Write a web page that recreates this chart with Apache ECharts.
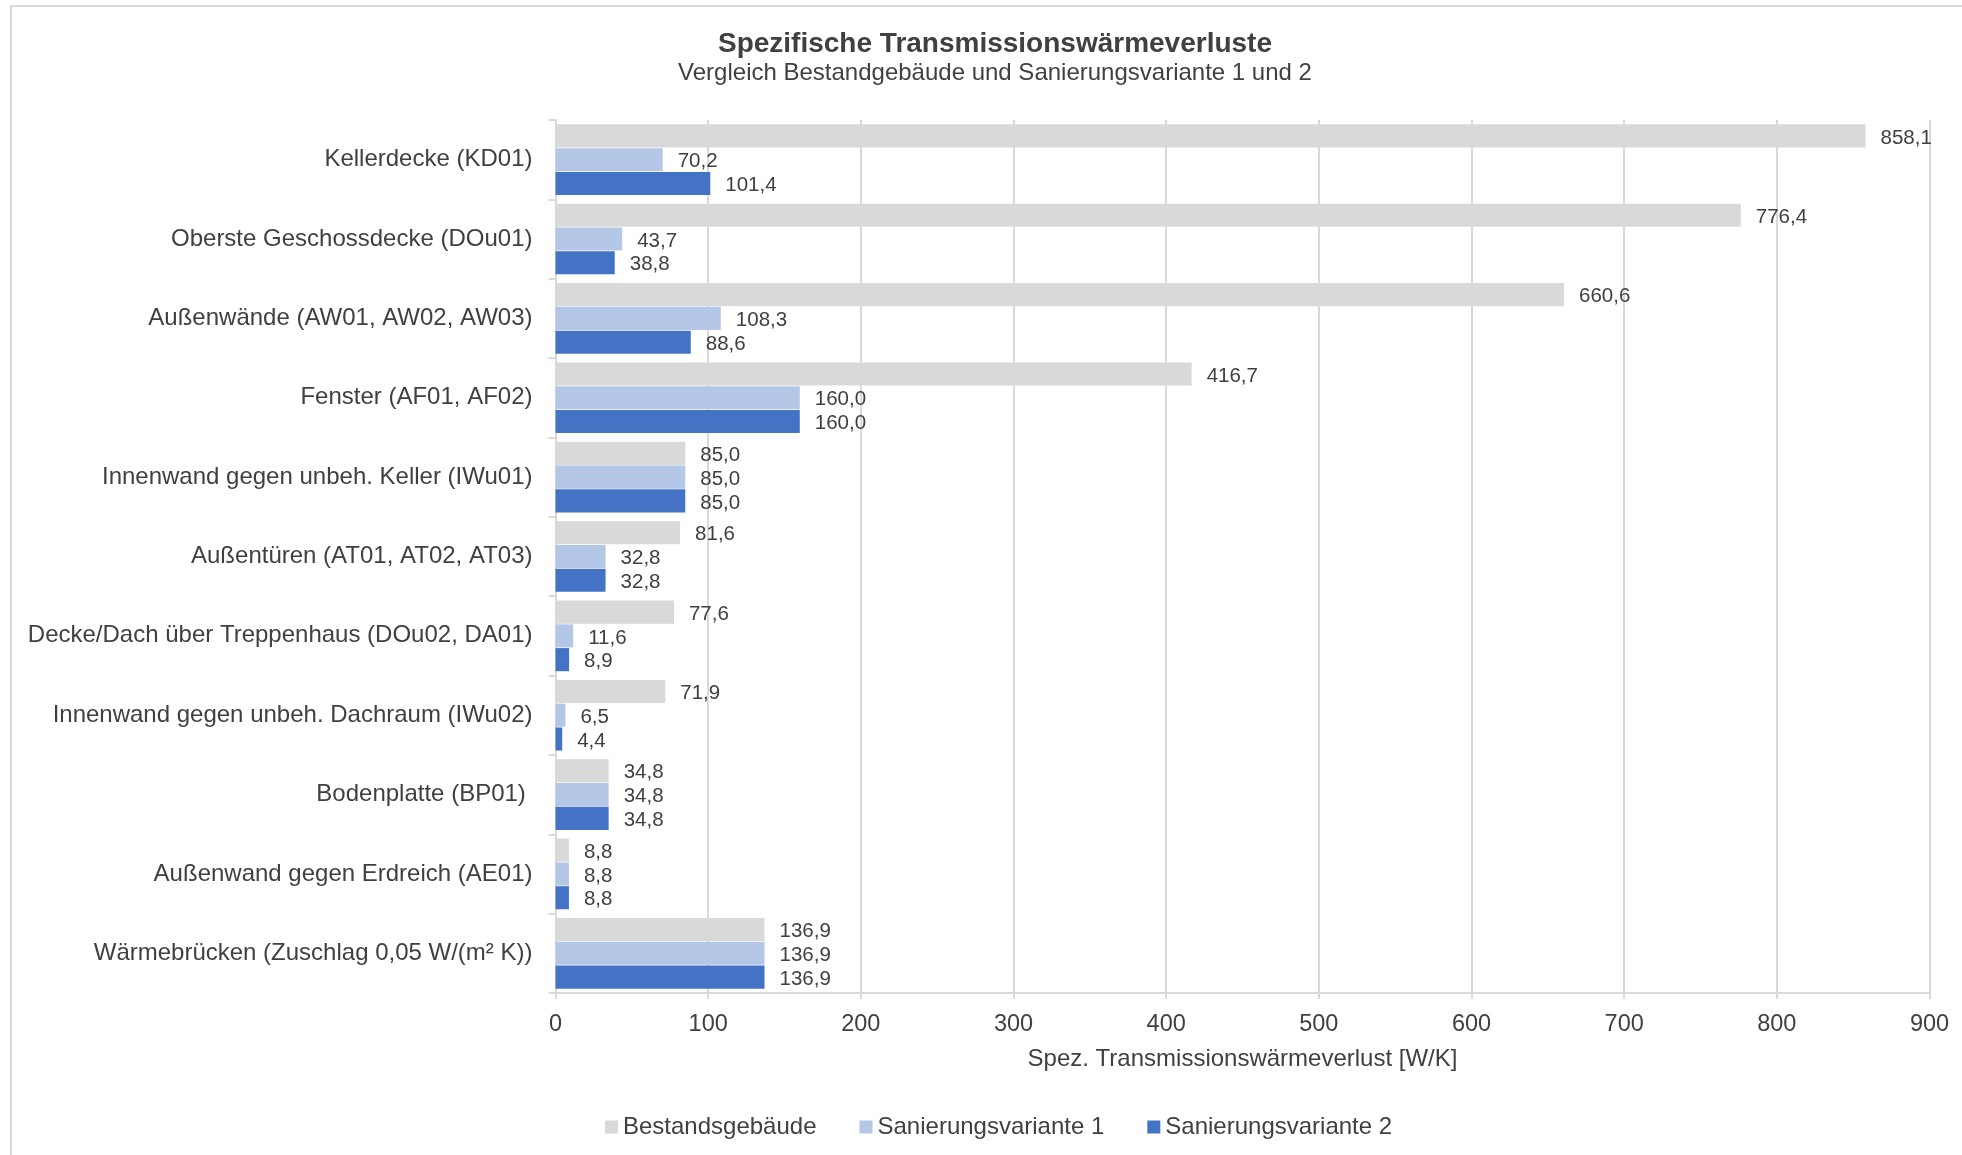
<!DOCTYPE html>
<html>
<head>
<meta charset="utf-8">
<script src="https://cdn.jsdelivr.net/npm/echarts@6/dist/echarts.min.js"></script>
<style>
  html, body { margin: 0; padding: 0; background: #fff; }
  #chart { width: 1962px; height: 1155px; }
</style>
</head>
<body>
<div id="chart"></div>
<script>
// Building components (top to bottom)
const categories = [
  'Kellerdecke (KD01)',
  'Oberste Geschossdecke (DOu01)',
  'Außenwände (AW01, AW02, AW03)',
  'Fenster (AF01, AF02)',
  'Innenwand gegen unbeh. Keller (IWu01)',
  'Außentüren (AT01, AT02, AT03)',
  'Decke/Dach über Treppenhaus (DOu02, DA01)',
  'Innenwand gegen unbeh. Dachraum (IWu02)',
  'Bodenplatte (BP01) ',
  'Außenwand gegen Erdreich (AE01)',
  'Wärmebrücken (Zuschlag 0,05 W/(m² K))'
];

// Specific transmission heat loss [W/K]
const bestand = [858.1, 776.4, 660.6, 416.7, 85.0, 81.6, 77.6, 71.9, 34.8, 8.8, 136.9];
const variante1 = [70.2, 43.7, 108.3, 160.0, 85.0, 32.8, 11.6, 6.5, 34.8, 8.8, 136.9];
const variante2 = [101.4, 38.8, 88.6, 160.0, 85.0, 32.8, 8.9, 4.4, 34.8, 8.8, 136.9];

const seriesNames = ['Bestandsgebäude', 'Sanierungsvariante 1', 'Sanierungsvariante 2'];
const xTicks = { min: 0, max: 900, interval: 100 };

const FONT = '"Liberation Sans", Arial, sans-serif';
const GRID_COLOR = '#d9d9d9';
const TEXT = '#404040';

const fmt = v => v.toFixed(1).replace('.', ',');

function barSeries(name, data, color) {
  return {
    name: name,
    type: 'bar',
    data: data,
    barGap: '3%',
    barCategoryGap: '11%',
    itemStyle: { color: color },
    label: {
      show: true,
      position: 'right',
      distance: 15,
      offset: [0, 2],
      fontFamily: FONT,
      fontSize: 20.5,
      color: TEXT,
      formatter: p => fmt(p.value)
    }
  };
}

const chart = echarts.init(document.getElementById('chart'), null, { renderer: 'canvas' });

chart.setOption({
  animation: false,
  backgroundColor: '#ffffff',
  textStyle: { fontFamily: FONT },
  graphic: [
    {
      type: 'rect',
      silent: true,
      z: -10,
      shape: { x: 11, y: 6, width: 1990, height: 1200 },
      style: { fill: 'none', stroke: GRID_COLOR, lineWidth: 2 }
    },
    {
      type: 'text',
      x: 995,
      y: 44,
      style: {
        text: 'Spezifische Transmissionswärmeverluste',
        font: 'bold 28px ' + FONT,
        fill: TEXT,
        textAlign: 'center',
        textVerticalAlign: 'middle'
      }
    },
    {
      type: 'text',
      x: 995,
      y: 73,
      style: {
        text: 'Vergleich Bestandgebäude und Sanierungsvariante 1 und 2',
        font: '24px ' + FONT,
        fill: TEXT,
        textAlign: 'center',
        textVerticalAlign: 'middle'
      }
    }
  ],
  legend: {
    left: 600,
    top: 1110,
    itemWidth: 13,
    itemHeight: 13,
    itemGap: 43,
    icon: 'rect',
    textStyle: { fontFamily: FONT, fontSize: 24, color: TEXT },
    data: seriesNames
  },
  grid: {
    left: 555.5,
    right: 32.5,
    top: 120,
    bottom: 162,
    containLabel: false
  },
  xAxis: {
    type: 'value',
    min: xTicks.min,
    max: xTicks.max,
    interval: xTicks.interval,
    axisLine: { show: true, lineStyle: { color: GRID_COLOR, width: 2 } },
    axisTick: { show: true, length: 6, lineStyle: { color: GRID_COLOR, width: 2 } },
    splitLine: { show: true, lineStyle: { color: GRID_COLOR, width: 2 } },
    axisLabel: { fontFamily: FONT, fontSize: 23.5, color: TEXT, margin: 20 },
    name: 'Spez. Transmissionswärmeverlust [W/K]',
    nameLocation: 'middle',
    nameGap: 54,
    nameTextStyle: { fontFamily: FONT, fontSize: 24, color: TEXT }
  },
  yAxis: {
    type: 'category',
    inverse: true,
    data: categories,
    axisLine: { show: true, lineStyle: { color: GRID_COLOR, width: 2 } },
    axisTick: { show: true, length: 7, lineStyle: { color: GRID_COLOR, width: 2 } },
    axisLabel: { fontFamily: FONT, fontSize: 24, color: TEXT, margin: 23 }
  },
  series: [
    barSeries(seriesNames[0], bestand, '#d9d9d9'),
    barSeries(seriesNames[1], variante1, '#b4c7e7'),
    barSeries(seriesNames[2], variante2, '#4472c4')
  ]
});
</script>
</body>
</html>
